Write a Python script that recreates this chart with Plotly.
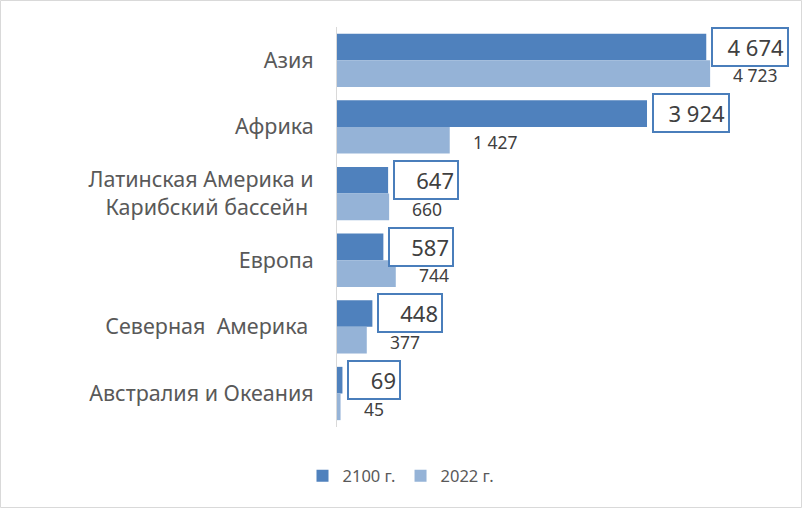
import plotly.graph_objects as go

categories = ["Азия", "Африка", "Латинская Америка и<br>Карибский бассейн\u00a0", "Европа",
              "Северная\u00a0 Америка\u00a0", "Австралия и Океания"]
values_2100 = [4674, 3924, 647, 587, 448, 69]
values_2022 = [4723, 1427, 660, 744, 377, 45]
labels_2100 = ["4 674", "3 924", "647", "587", "448", "69"]
labels_2022 = ["4 723", "1 427", "660", "744", "377", "45"]
series_names = ["2100 г.", "2022 г."]

DARK = "#4F81BD"
LIGHT = "#95B3D7"
FONT2 = "Noto Sans"

fig = go.Figure()
fig.add_trace(go.Bar(y=categories, x=values_2100, orientation="h", name=series_names[0],
                     marker=dict(color=DARK, line=dict(width=0))))
fig.add_trace(go.Bar(y=categories, x=values_2022, orientation="h", name=series_names[1],
                     marker=dict(color=LIGHT, line=dict(width=0))))

ann = []
for c, v, t in zip(categories, values_2100, labels_2100):
    nd = sum(ch.isdigit() for ch in t)
    ann.append(dict(x=v, y=c, xref="x", yref="y", text=t, showarrow=False,
                    xanchor="left", yanchor="middle", xshift=5, yshift=13.5, align="right",
                    width=20 + 12 * nd,
                    font=dict(family=FONT2, size=22, color="#404040"),
                    bordercolor="#4A7EBB", borderwidth=2, borderpad=3, bgcolor="white"))
for c, v, t in zip(categories, values_2022, labels_2022):
    ann.append(dict(x=v, y=c, xref="x", yref="y", text=t, showarrow=False,
                    xanchor="left", yanchor="middle", xshift=21, yshift=-15,
                    font=dict(family=FONT2, size=17.5, color="#404040")))

L, R, T, B = 337, 12, 27, 81
W, H = 802, 508
pw, ph = W - L - R, H - T - B

fig.update_layout(
    width=W, height=H,
    margin=dict(l=L, r=R, t=T, b=B, autoexpand=False),
    paper_bgcolor="white", plot_bgcolor="white",
    barmode="group", bargap=0.2, bargroupgap=0,
    font=dict(family=FONT2, color="#595959"),
    xaxis=dict(range=[0, 5734], showgrid=False, zeroline=False, showticklabels=False,
               showline=False, ticks="", automargin=False),
    yaxis=dict(autorange="reversed", showgrid=False, zeroline=False, showline=True,
               linecolor="#D9D9D9", linewidth=1, ticks="", ticklabelstandoff=18,
               automargin=False,
               tickfont=dict(family=FONT2, size=21.5, color="#595959")),
    legend=dict(orientation="h", xref="container", yref="container", x=0.5, y=0.063,
                xanchor="center", yanchor="middle",
                font=dict(family=FONT2, size=16.5, color="#595959"), itemwidth=30,
                traceorder="normal"),
    annotations=ann,
    shapes=[dict(type="rect", xref="paper", yref="paper",
                 x0=(0.5 - L) / pw, x1=(W - 0.5 - L) / pw,
                 y0=-(H - 0.5 - T - ph) / ph, y1=(ph + T - 0.5) / ph,
                 line=dict(color="#D9D9D9", width=1), fillcolor="rgba(0,0,0,0)")],
)

fig.write_html("out.html", post_script="document.body.style.margin='0';",
               config={"displayModeBar": False})
